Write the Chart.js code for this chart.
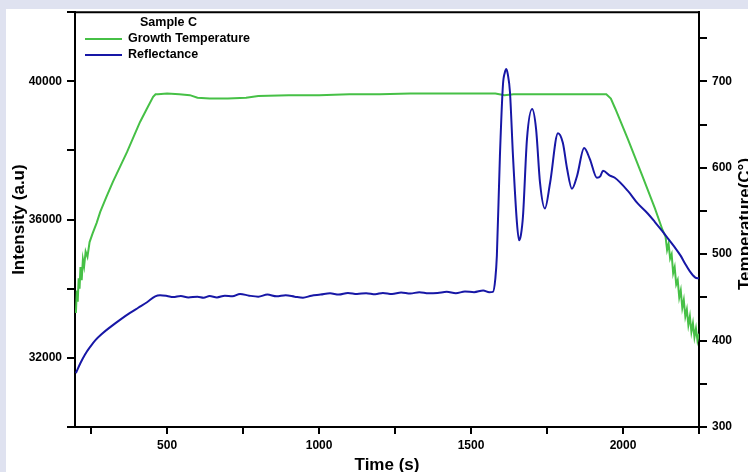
<!DOCTYPE html>
<html>
<head>
<meta charset="utf-8">
<script src="https://cdn.jsdelivr.net/npm/chart.js"></script>
<style>
  html, body { margin: 0; padding: 0; background: #dfe2f0; }
  #wrap { position: relative; width: 748px; height: 472px; }
</style>
</head>
<body>
<div id="wrap"><canvas id="growthChart" width="748" height="472"></canvas></div>
<script>
// growth temperature (right axis, C°)
const tempTime = [200, 203, 206, 209, 212, 215, 219, 223, 227, 232, 238, 245, 255, 268, 280, 300, 322, 345, 368, 390, 411, 433, 454, 462, 470,
  500, 540, 575, 600, 640, 700, 760, 800, 900, 1000, 1100, 1200, 1300, 1400, 1500, 1580, 1610, 1640, 1700, 1800, 1900, 1945, 1960, 1975,
  2016, 2062, 2105, 2130, 2140, 2145, 2150, 2155, 2160, 2165, 2170, 2175, 2180, 2185, 2190, 2195, 2200, 2205, 2210, 2215, 2220, 2225,
  2230, 2235, 2240, 2245, 2250];
const tempValue = [432, 458, 445, 472, 460, 485, 470, 494, 486, 503, 497, 514, 524, 536, 549, 566, 584, 601, 618, 636, 653, 668, 682, 685, 685,
  686, 685, 684, 681, 680, 680, 681, 683, 684, 684, 685, 685, 686, 686, 686, 686, 684, 685, 685, 685, 685, 685, 680, 668,
  633, 592, 553, 528, 520, 505, 512, 495, 500, 478, 485, 465, 470, 450, 458, 438, 447, 428, 436, 418, 428, 410,
  420, 404, 414, 400, 408];

// reflectance (left axis, a.u)
const reflTime = [200, 215, 230, 247, 265, 285, 313, 345, 378, 405, 434, 461, 477, 500, 520, 545, 570, 600, 620, 640, 664, 690, 715, 740,
  770, 800, 830, 860, 890, 920, 947, 975, 1005, 1036, 1065, 1095, 1125, 1155, 1185, 1210, 1240, 1270, 1300, 1330, 1360, 1390, 1420,
  1450, 1480, 1510, 1540, 1560, 1572, 1580, 1585, 1595, 1605, 1611, 1616, 1621, 1628, 1638, 1651, 1658, 1664, 1671, 1684, 1701, 1714, 1727,
  1743, 1760, 1786, 1802, 1816, 1832, 1849, 1872, 1891, 1914, 1925, 1934, 1957, 1973, 2016, 2049, 2082, 2105, 2128, 2150, 2171, 2190,
  2204, 2220, 2237, 2250];
const reflValue = [31560, 31850, 32100, 32320, 32520, 32690, 32890, 33100, 33300, 33450, 33610, 33780, 33810, 33790, 33760, 33790, 33750, 33770, 33740, 33790, 33750, 33800, 33780, 33850,
  33800, 33770, 33830, 33780, 33810, 33770, 33740, 33800, 33830, 33870, 33830, 33880, 33850, 33870, 33840, 33880, 33850, 33890, 33860, 33900, 33870, 33880, 33910,
  33870, 33920, 33900, 33950, 33900, 33910, 34300, 34960, 37840, 39900, 40250, 40360, 40200, 39700, 37840, 35910, 35400, 35550, 36110, 38330, 39200, 38620, 37060,
  36320, 37060, 38500, 38220, 37470, 36890, 37270, 38070, 37750, 37210, 37250, 37410, 37270, 37210, 36830, 36460, 36170, 35930, 35680, 35430, 35190, 34950,
  34730, 34500, 34330, 34300];

const timeTicks = [250, 500, 750, 1000, 1250, 1500, 1750, 2000, 2250];
const intensityTicks = [30000, 32000, 34000, 36000, 38000, 40000, 42000];
const tempTicks = [300, 350, 400, 450, 500, 550, 600, 650, 700, 750];

const greenColor = '#46c046';
const blueColor = '#1717a6';
const tickFont = { family: 'Liberation Sans, Arial', size: 12, weight: 'bold' };

const framePlugin = {
  id: 'frame',
  beforeDraw(chart) {
    const c = chart.ctx;
    c.save();
    c.fillStyle = '#dfe2f0';
    c.fillRect(0, 0, chart.width, chart.height);
    c.fillStyle = '#ffffff';
    c.fillRect(6, 9, chart.width - 6, chart.height - 9);
    c.restore();
  },
  afterDraw(chart) {
    const c = chart.ctx;
    const a = chart.chartArea;
    c.save();
    // top edge of the box
    c.strokeStyle = '#000';
    c.lineWidth = 2;
    c.beginPath();
    c.moveTo(a.left, a.top);
    c.lineTo(a.right, a.top);
    c.stroke();

    // legend
    c.font = 'bold 12.5px Liberation Sans, Arial';
    c.fillStyle = '#000';
    c.textBaseline = 'middle';
    c.fillText('Sample C', 140, 23);
    c.lineWidth = 2;
    c.strokeStyle = greenColor;
    c.beginPath(); c.moveTo(85, 39); c.lineTo(122, 39); c.stroke();
    c.fillText('Growth Temperature', 128, 39);
    c.strokeStyle = blueColor;
    c.beginPath(); c.moveTo(85, 55); c.lineTo(122, 55); c.stroke();
    c.fillText('Reflectance', 128, 55);

    // right axis title, reading upwards
    c.font = 'bold 17px Liberation Sans, Arial';
    c.textAlign = 'center';
    c.translate(745, 224);
    c.rotate(-Math.PI / 2);
    c.fillText('Temperature(C°)', 0, 0);
    c.restore();
  }
};

const ctx = document.getElementById('growthChart').getContext('2d');
const chart = new Chart(ctx, {
  type: 'line',
  data: {
    datasets: [{
      label: 'Growth Temperature',
      data: tempTime.map((t, i) => ({ x: t, y: tempValue[i] })),
      yAxisID: 'yTemp',
      borderColor: greenColor,
      borderWidth: 2,
      pointRadius: 0,
      tension: 0,
      order: 1
    }, {
      label: 'Reflectance',
      data: reflTime.map((t, i) => ({ x: t, y: reflValue[i] })),
      yAxisID: 'y',
      borderColor: blueColor,
      borderWidth: 2,
      pointRadius: 0,
      cubicInterpolationMode: 'monotone',
      order: 0
    }]
  },
  options: {
    responsive: false,
    animation: false,
    layout: { padding: { top: 10, left: 0, right: 0, bottom: 0 } },
    plugins: { legend: { display: false }, tooltip: { enabled: false } },
    scales: {
      x: {
        type: 'linear',
        min: 197,
        max: 2250,
        afterBuildTicks: s => { s.ticks = timeTicks.map(v => ({ value: v })); },
        afterFit: s => { s.height = 45; },
        ticks: {
          color: '#000',
          font: tickFont,
          padding: 4,
          maxRotation: 0,
          autoSkip: false,
          callback: v => (v % 500 === 0 ? v : '')
        },
        grid: { drawOnChartArea: false, tickLength: 7, color: '#000', lineWidth: 2 },
        border: { color: '#000', width: 2 },
        title: {
          display: true,
          text: 'Time (s)',
          color: '#000',
          font: { family: 'Liberation Sans, Arial', size: 17, weight: 'bold', lineHeight: 1 },
          padding: { top: 0, bottom: -2 }
        }
      },
      y: {
        position: 'left',
        min: 30000,
        max: 42000,
        afterBuildTicks: s => { s.ticks = intensityTicks.map(v => ({ value: v })); },
        afterFit: s => { s.width = 75; },
        ticks: {
          color: '#000',
          font: tickFont,
          padding: 5,
          autoSkip: false,
          callback: v => (v % 4000 === 0 ? v : '')
        },
        grid: { drawOnChartArea: false, tickLength: 8, color: '#000', lineWidth: 2 },
        border: { color: '#000', width: 2 },
        title: {
          display: true,
          text: 'Intensity (a.u)',
          color: '#000',
          font: { family: 'Liberation Sans, Arial', size: 17, weight: 'bold', lineHeight: 1 },
          padding: { top: 11, bottom: 0 }
        }
      },
      yTemp: {
        position: 'right',
        min: 300,
        max: 780,
        afterBuildTicks: s => { s.ticks = tempTicks.map(v => ({ value: v })); },
        afterFit: s => { s.width = 49; },
        ticks: {
          color: '#000',
          font: tickFont,
          padding: 5,
          autoSkip: false,
          callback: v => (v % 100 === 0 ? v : '')
        },
        grid: { drawOnChartArea: false, tickLength: 8, color: '#000', lineWidth: 2 },
        border: { color: '#000', width: 2 }
      }
    }
  },
  plugins: [framePlugin]
});
</script>
</body>
</html>
